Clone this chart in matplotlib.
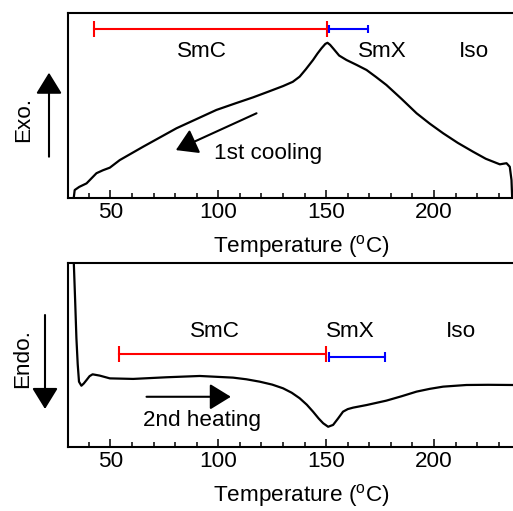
import matplotlib.pyplot as plt
from matplotlib.ticker import MultipleLocator

plt.rcParams['font.family'] = ['Liberation Sans', 'DejaVu Sans']
plt.rcParams['font.size'] = 16.2

# 1st cooling trace (temperature in degC, heat flow in arb. units)
T_cool = [33.0, 33.4, 35.5, 38.9, 43.5, 46.5, 49.7, 54.3, 65.1, 80.6, 99.1,
          108.0, 116.1, 123.0, 130.0, 134.5, 137.7, 140.5, 143.9, 145.9,
          147.8, 149.6, 150.6, 151.8, 153.2, 156.0, 159.4, 164.0, 168.7,
          173.0, 177.9, 185.0, 191.9, 198.0, 204.2, 211.0, 218.1, 224.0,
          230.5, 232.5, 233.6, 235.1, 235.9, 236.2]
Q_cool = [0.4, 4.3, 6.0, 7.9, 13.4, 15.0, 16.4, 20.5, 27.7, 37.7, 47.6,
          51.2, 54.4, 57.4, 60.5, 62.8, 65.6, 69.5, 74.6, 78.0,
          80.9, 83.3, 83.9, 82.8, 80.9, 77.0, 74.6, 72.0, 69.2,
          65.5, 61.1, 53.5, 45.8, 40.2, 35.0, 29.8, 25.0, 21.2,
          18.2, 18.6, 18.8, 16.9, 9.7, 0.4]

# 2nd heating trace
T_heat = [32.6, 33.0, 33.6, 34.2, 34.8, 35.4, 36.5, 37.6, 38.9, 40.3, 41.7,
          45.0, 49.7, 60.5, 76.0, 91.4, 106.8, 113.0, 119.2, 125.0, 130.0,
          134.0, 137.7, 141.0, 143.9, 146.5, 148.6, 150.9, 153.2, 155.5,
          157.8, 160.0, 162.5, 168.7, 177.9, 185.0, 191.9, 198.0, 204.2,
          215.0, 225.0, 236.5]
Q_heat = [110.0, 99.8, 80.0, 59.1, 45.0, 35.5, 33.3, 34.5, 36.4, 38.5, 39.5,
          38.8, 37.3, 37.0, 37.9, 38.6, 37.7, 36.8, 35.5, 33.9, 31.9,
          29.5, 26.5, 23.0, 19.2, 15.5, 12.9, 11.0, 12.0, 15.5,
          19.2, 20.6, 21.4, 22.8, 25.2, 27.6, 30.1, 31.6, 32.8,
          33.7, 33.8, 33.7]

# phase ranges (start, end) and labels
smc_cool = (42.3, 150.4)
smx_cool = (151.3, 169.6)
smc_heat = (53.8, 150.1)
smx_heat = (151.1, 177.2)
phases = ['SmC', 'SmX', 'Iso']
phase_T_cool = [92.5, 176.1, 218.6]
phase_T_heat = [98.4, 161.3, 212.4]

fig = plt.figure(figsize=(5.13, 5.11), dpi=100)
W, H = 513, 511
x0, x1 = 68, 513
ax1 = fig.add_axes([x0 / W, 1 - 198 / H, (x1 - x0) / W, 185 / H])
ax2 = fig.add_axes([x0 / W, 1 - 447 / H, (x1 - x0) / W, 184 / H])

for ax in (ax1, ax2):
    ax.set_xlim(30.3, 236.6)
    ax.set_ylim(0, 100)
    ax.set_yticks([])
    ax.xaxis.set_major_locator(MultipleLocator(50))
    ax.xaxis.set_minor_locator(MultipleLocator(10))
    ax.tick_params(axis='x', which='major', direction='in', length=6,
                   width=1.1, pad=3)
    ax.tick_params(axis='x', which='minor', direction='in', length=3.5,
                   width=1.1)
    for s in ax.spines.values():
        s.set_linewidth(1.5)
    ax.spines['right'].set_visible(False)
    ax.set_xlabel('Temperature ($\\mathregular{^{o}}$C)')
    ax.xaxis.set_label_coords(0.524, -0.19)

arrow_kw = dict(arrowstyle='-|>,head_length=0.65,head_width=0.4',
                mutation_scale=20, lw=1.5, color='k', shrinkA=0, shrinkB=0)

# cooling
ax1.plot(T_cool, Q_cool, color='k', lw=1.6)
ax1.plot(smc_cool, [91.2, 91.2], color='red', lw=1.5, marker='|',
         ms=11.5, mew=1.5)
ax1.plot(smx_cool, [91.2, 91.2], color='blue', lw=1.5, marker='|',
         ms=6, mew=1.5)
for name, t in zip(phases, phase_T_cool):
    ax1.text(t, 79.1, name, ha='center', va='center')
ax1.annotate('', xy=(80.3, 25.9), xytext=(117.7, 45.8), arrowprops=arrow_kw)
ax1.text(123.1, 24.2, '1st cooling', ha='center', va='center')

# heating
ax2.plot(T_heat, Q_heat, color='k', lw=1.6)
ax2.plot(smc_heat, [50.5, 50.5], color='red', lw=1.5, marker='|',
         ms=11.5, mew=1.5)
ax2.plot(smx_heat, [48.7, 48.7], color='blue', lw=1.5, marker='|',
         ms=7, mew=1.5)
for name, t in zip(phases, phase_T_heat):
    ax2.text(t, 63.0, name, ha='center', va='center')
ax2.annotate('', xy=(105.8, 27.3), xytext=(66.7, 27.3), arrowprops=arrow_kw)
ax2.text(92.6, 14.3, '2nd heating', ha='center', va='center')

# Exo / Endo markers on the left side
ax1.annotate('', xy=(49, H - 72.7), xytext=(49, H - 156.7),
             xycoords='figure pixels', textcoords='figure pixels',
             arrowprops=arrow_kw, annotation_clip=False)
ax2.annotate('', xy=(45, H - 409), xytext=(45, H - 315),
             xycoords='figure pixels', textcoords='figure pixels',
             arrowprops=arrow_kw, annotation_clip=False)
fig.text(24 / W, 1 - 119 / H, 'Exo.', rotation=90, ha='center', va='center')
fig.text(23 / W, 1 - 359 / H, 'Endo.', rotation=90, ha='center', va='center')

fig.savefig('out.png', dpi=100)
